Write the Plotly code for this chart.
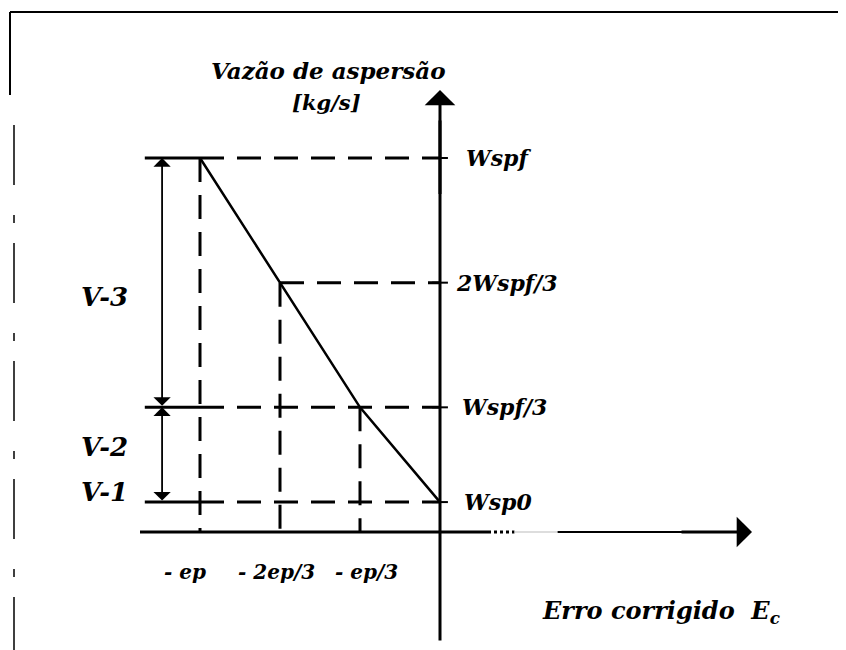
import plotly.graph_objects as go

# ---------------- data ----------------
x_pos = [-1.0, -2/3, -1/3, 0.0]                 # -ep, -2ep/3, -ep/3, 0
x_labels = ["- ep", "- 2ep/3", "- ep/3"]
levels = [1.0, 2/3, 1/3, 0.08]                  # Wspf, 2Wspf/3, Wspf/3, Wsp0
level_labels = ["Wspf", "2Wspf/3", "Wspf/3", "Wsp0"]
curve_x = [-1.0, -2/3, -1/3, 0.0]
curve_y = [1.0, 2/3, 1/3, 0.08]
valve_labels = ["V-3", "V-2", "V-1"]
y_title = "Vazão de aspersão"
y_unit = "[kg/s]"
x_title = "Erro corrigido  E<sub>c</sub>"

# ---------------- layout helpers ----------------
W, H = 846, 650
OFF = 8                                         # page body margin
X0PX, Y0PX, SX, SY = 440 - OFF, 532 - OFF, 240, 374
xr = [(-X0PX) / SX, (W - X0PX) / SX]
yr = [(Y0PX - H) / SY, Y0PX / SY]

FONT = "DejaVu Serif"
fig = go.Figure()

def line(xs, ys, width=3, dash="solid", color="black"):
    fig.add_trace(go.Scatter(x=xs, y=ys, mode="lines", hoverinfo="skip",
                             line=dict(color=color, width=width, dash=dash)))

DASH = "24px,13px"
x_left = -1.23
x_brk = -1.158
bracket_idx = [0, 2, 3]

# horizontal guide lines
for i, lvl in enumerate(levels):
    if i in bracket_idx:
        line([x_left, x_pos[0]], [lvl, lvl], width=3)
        line([x_pos[0], 0], [lvl, lvl], width=3, dash=DASH)
    else:
        line([curve_x[i], 0], [lvl, lvl], width=3, dash=DASH)
    line([-0.033, 0.033], [lvl, lvl], width=2)

# vertical guide lines
for i in range(3):
    line([x_pos[i], x_pos[i]], [curve_y[i], 0], width=3, dash=DASH)

# characteristic curve
line(curve_x, curve_y, width=2.5)

# axes
line([0, 0], [-0.29, 1.10], width=3)
line([-1.25, 0.2], [0, 0], width=3)
line([0.2, 0.31], [0, 0], width=3, dash="dot")
line([0.31, 0.49], [0, 0], width=1, color="#bbbbbb")
line([0.49, 1.24], [0, 0], width=2)

fig.add_annotation(x=0, y=(532 - 90) / SY, ax=0, ay=0.9, xref="x", yref="y",
                   axref="x", ayref="y", text="", showarrow=True,
                   arrowhead=1, arrowsize=1.7, arrowwidth=3, arrowcolor="black")
fig.add_annotation(x=(752 - 440) / SX, y=0, ax=1.0, ay=0, xref="x", yref="y",
                   axref="x", ayref="y", text="", showarrow=True,
                   arrowhead=1, arrowsize=1.7, arrowwidth=3, arrowcolor="black")

# valve bracket (double arrows)
spans = [(levels[0], levels[2]), (levels[2], levels[3])]
for top, bot in spans:
    fig.add_annotation(x=x_brk, y=top, ax=x_brk, ay=bot, xref="x", yref="y",
                       axref="x", ayref="y", text="", showarrow=True,
                       arrowhead=1, arrowside="end+start", arrowsize=1.6,
                       arrowwidth=1.8, arrowcolor="black")

def bi(t):
    return "<b><i>" + t + "</i></b>"

# level labels
lvl_xshift = [24, 14, 20, 22]
for lvl, lab, sh in zip(levels, level_labels, lvl_xshift):
    fig.add_annotation(x=0, y=lvl, text=bi(lab), showarrow=False, xref="x", yref="y",
                       xanchor="left", xshift=sh, yshift=0,
                       font=dict(family=FONT, size=22, color="black"))

# x labels
xshifts = [-15, -4, 6]
for xp, lab, sh in zip(x_pos[:3], x_labels, xshifts):
    fig.add_annotation(x=xp, y=0, text=bi(lab), showarrow=False, xref="x", yref="y",
                       xanchor="center", yanchor="middle", xshift=sh, yshift=-40,
                       font=dict(family=FONT, size=20, color="black"))

# valve labels
valve_y = [(levels[0] + levels[2]) / 2, (levels[2] + levels[3]) / 2, levels[3]]
valve_shift = [-14, 8, 10]
for vy, lab, sh in zip(valve_y, valve_labels, valve_shift):
    fig.add_annotation(x=x_brk, y=vy, text=bi(lab), showarrow=False, xref="x", yref="y",
                       xanchor="right", xshift=-32, yshift=sh,
                       font=dict(family=FONT, size=26, color="black"))

# axis titles
fig.add_annotation(x=0, y=1.17, text=bi(y_title), showarrow=False,
                   xref="x", yref="y", xanchor="center", yanchor="middle",
                   xshift=-112, yshift=24,
                   font=dict(family=FONT, size=23, color="black"))
fig.add_annotation(x=0, y=1.17, text=bi(y_unit), showarrow=False, xref="x", yref="y",
                   xanchor="center", yanchor="middle", xshift=-114, yshift=-8,
                   font=dict(family=FONT, size=21, color="black"))
fig.add_annotation(x=0, y=0, text=bi(x_title), showarrow=False,
                   xref="x", yref="y", xanchor="left", yanchor="middle",
                   xshift=100, yshift=-80,
                   font=dict(family=FONT, size=24, color="black"))

# frame decoration
def px(x):
    return (x - OFF) / W

def py(y):
    return 1 - (y - OFF) / H

fig.add_shape(type="line", xref="paper", yref="paper", x0=px(10), x1=1.2,
              y0=py(12), y1=py(12), line=dict(color="black", width=2))
fig.add_shape(type="line", xref="paper", yref="paper", x0=px(10), x1=px(10),
              y0=py(12), y1=py(95), line=dict(color="black", width=2))
fig.add_shape(type="line", xref="paper", yref="paper", x0=px(14), x1=px(14),
              y0=py(125), y1=-0.1, line=dict(color="black", width=1.5,
                                              dash="60px,30px,8px,20px"))
fig.add_shape(type="line", xref="paper", yref="paper", x0=px(843), x1=px(843),
              y0=py(590), y1=-0.1, line=dict(color="black", width=1.5))

fig.update_layout(
    width=W, height=H, margin=dict(l=0, r=0, t=0, b=0),
    paper_bgcolor="white", plot_bgcolor="white", showlegend=False,
    xaxis=dict(range=xr, visible=False, fixedrange=True),
    yaxis=dict(range=yr, visible=False, fixedrange=True),
)
fig.write_html("out.html")
